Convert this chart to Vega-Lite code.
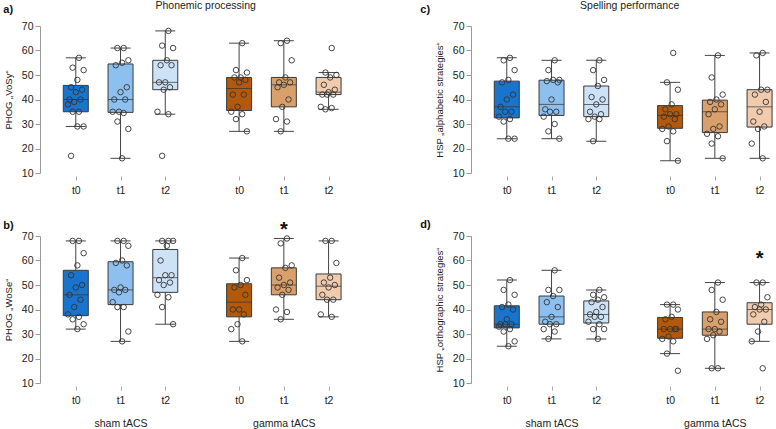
{
  "$schema": "https://vega.github.io/schema/vega-lite/v6.json",
  "padding": {"left": 3, "top": 0, "right": 0, "bottom": 0},
  "background": "white",
  "datasets": {
    "obs": [
      {"p": "a", "g": "sham", "t": "t0", "v": [57, 53, 52, 48, 45, 44, 43, 40, 40, 39, 38, 35, 35, 29, 29, 17]},
      {"p": "a", "g": "sham", "t": "t1", "v": [61, 61, 56, 55, 54, 45, 43, 40, 40, 35, 35, 34.5, 31, 28, 16]},
      {"p": "a", "g": "sham", "t": "t2", "v": [68, 62, 61, 56, 54, 54, 47, 47, 45, 44, 35, 34, 17]},
      {"p": "a", "g": "gamma", "t": "t0", "v": [63, 52, 51, 49, 49, 48, 47, 42, 42, 37, 35, 34, 32, 27]},
      {"p": "a", "g": "gamma", "t": "t1", "v": [64, 63, 56, 49, 47, 47, 46, 45, 40, 37, 32, 31, 27]},
      {"p": "a", "g": "gamma", "t": "t2", "v": [61, 51, 50, 49, 46, 44, 43, 42, 42, 42, 37, 36.5, 36]},
      {"p": "b", "g": "sham", "t": "t0", "v": [68, 68, 63, 58, 54, 50, 49, 46, 44, 41, 38, 37, 36, 34, 32]},
      {"p": "b", "g": "sham", "t": "t1", "v": [68, 68, 66, 60, 59, 58, 49, 48, 48, 47, 43, 41, 41, 31, 27]},
      {"p": "b", "g": "sham", "t": "t2", "v": [68, 68, 68, 66, 60, 54, 54, 52, 51, 50, 46, 45, 41, 34]},
      {"p": "b", "g": "gamma", "t": "t0", "v": [61, 56, 52, 50, 49, 46, 40, 40, 38, 34, 32, 27]},
      {"p": "b", "g": "gamma", "t": "t1", "v": [69, 67, 58, 57, 53, 51, 50, 49, 48, 46, 40, 39, 36]},
      {"p": "b", "g": "gamma", "t": "t2", "v": [68, 68, 59, 53, 51, 50, 49, 46, 44, 44, 38, 37]},
      {"p": "c", "g": "sham", "t": "t0", "v": [57, 56, 52, 48, 47, 42, 40, 37, 35, 35, 33, 32, 31, 24, 24]},
      {"p": "c", "g": "sham", "t": "t1", "v": [56, 52, 48, 48, 47.5, 47, 40, 36, 35, 35, 33, 30, 27, 24]},
      {"p": "c", "g": "sham", "t": "t2", "v": [56, 52, 48, 45.5, 41, 40, 38, 35, 34, 33, 32, 32, 23]},
      {"p": "c", "g": "gamma", "t": "t0", "v": [59, 47, 44, 38, 36, 34, 34, 33, 32, 29, 28, 27, 23, 15]},
      {"p": "c", "g": "gamma", "t": "t1", "v": [58, 49, 42, 40, 39, 38, 36, 34, 29, 28, 26, 25, 22, 16]},
      {"p": "c", "g": "gamma", "t": "t2", "v": [59, 58, 44, 44, 42, 39, 35, 31, 29, 28, 22, 16]},
      {"p": "d", "g": "sham", "t": "t0", "v": [52, 48, 46, 42, 41, 40, 36, 34, 34, 34, 33, 32, 31, 27, 25]},
      {"p": "d", "g": "sham", "t": "t1", "v": [56, 48, 48, 45.5, 43, 41, 37, 35, 34, 34, 32, 31, 28]},
      {"p": "d", "g": "sham", "t": "t2", "v": [48, 46, 45, 44, 43, 41, 39, 38, 37, 37, 35, 34, 32, 32, 28]},
      {"p": "d", "g": "gamma", "t": "t0", "v": [42, 42, 40, 37, 36, 32, 32, 32, 32, 29, 28, 27, 22, 15]},
      {"p": "d", "g": "gamma", "t": "t1", "v": [51, 48, 44, 39, 36, 35, 32, 32, 31, 29.5, 28, 16, 16]},
      {"p": "d", "g": "gamma", "t": "t2", "v": [51, 51, 45, 42, 41, 40, 40, 38, 35, 31, 27, 16]}
    ],
    "stars": [
      {"p": "b", "g": "gamma", "t": "t1", "v": 75},
      {"p": "d", "g": "gamma", "t": "t2", "v": 63}
    ]
  },
  "spacing": 78,
  "hconcat": [
    {
      "title": {"text": "Phonemic processing", "anchor": "middle", "frame": "bounds", "fontSize": 10.5, "fontWeight": "normal", "color": "#222", "offset": -7, "dx": 33},
      "spacing": 23,
      "vconcat": [
        {
          "width": 302, "height": 147,
          "title": {"text": "a)", "anchor": "start", "frame": "bounds", "fontSize": 11, "fontWeight": "bold", "color": "#111", "offset": 6},
          "data": {"name": "obs"},
          "transform": [
            {"filter": "datum.p == 'a'"},
            {"flatten": ["v"]},
            {"calculate": "(datum.g == 'gamma' ? 4.65 : 1) + (datum.t == 't0' ? 0 : datum.t == 't1' ? 1 : 2)", "as": "x"},
            {"calculate": "datum.g + ' ' + datum.t", "as": "grp"}
          ],
          "layer": [
            {
              "mark": {"type": "boxplot", "orient": "vertical", "extent": 1.5, "outliers": false, "size": 25,
                "box": {"stroke": "#3a3a3a", "strokeWidth": 1, "opacity": 1},
                "median": {"color": "#333", "strokeWidth": 2},
                "rule": {"color": "#444", "strokeWidth": 1},
                "ticks": {"color": "#444", "size": 20}},
              "encoding": {
                "x": {"field": "x", "type": "quantitative", "scale": {"domain": [0.2, 6.95], "nice": false, "zero": false, "padding": 0},
                  "axis": {"values": [1, 2, 3, 4.65, 5.65, 6.65], "domain": false, "grid": false, "title": null, "tickColor": "#aaa", "tickSize": 4, "offset": 3, "labelPadding": 5, "labelFontSize": 10.5, "labelColor": "#222", "labelOverlap": false, "labelBound": false, "labelFlush": false,
                    "labelExpr": "datum.value < 4 ? 't' + (datum.value - 1) : 't' + round(datum.value - 4.65)"}},
                "y": {"field": "v", "type": "quantitative", "scale": {"domain": [10, 70], "nice": false, "zero": false},
                  "axis": {"values": [10, 20, 30, 40, 50, 60, 70], "grid": false, "labelOverlap": false, "domainColor": "#999", "tickColor": "#999", "tickSize": 5, "labelFontSize": 10.5, "labelColor": "#222", "labelPadding": 2, "title": "PHOG „VoSy“", "titleFontSize": 9.5, "titleFontWeight": "normal", "titleColor": "#222", "titlePadding": 8}},
                "color": {"field": "grp", "type": "nominal", "legend": null,
                  "scale": {"domain": ["sham t0", "sham t1", "sham t2", "gamma t0", "gamma t1", "gamma t2"], "range": ["#1874cd", "#8dc0ee", "#cde2f6", "#b3590b", "#d9a06b", "#f0cbae"]}}
              }
            },
            {
              "transform": [
                {"window": [{"op": "row_number", "as": "rn"}], "groupby": ["grp"]},
                {"calculate": "datum.x + ((datum.rn * 7) % 11 - 5) * 0.035", "as": "jx"}
              ],
              "mark": {"type": "point", "filled": false, "stroke": "#333", "strokeWidth": 0.9, "size": 30, "opacity": 1},
              "encoding": {
                "x": {"field": "jx", "type": "quantitative", "scale": {"domain": [0.2, 6.95], "nice": false, "zero": false, "padding": 0}},
                "y": {"field": "v", "type": "quantitative"}
              }
            }
          ]
        },
        {
          "width": 302, "height": 147,
          "title": {"text": "b)", "anchor": "start", "frame": "bounds", "fontSize": 11, "fontWeight": "bold", "color": "#111", "offset": -11},
          "data": {"name": "obs"},
          "transform": [
            {"filter": "datum.p == 'b'"},
            {"flatten": ["v"]},
            {"calculate": "(datum.g == 'gamma' ? 4.65 : 1) + (datum.t == 't0' ? 0 : datum.t == 't1' ? 1 : 2)", "as": "x"},
            {"calculate": "datum.g + ' ' + datum.t", "as": "grp"}
          ],
          "layer": [
            {
              "mark": {"type": "boxplot", "orient": "vertical", "extent": 1.5, "outliers": false, "size": 25,
                "box": {"stroke": "#3a3a3a", "strokeWidth": 1, "opacity": 1},
                "median": {"color": "#333", "strokeWidth": 2},
                "rule": {"color": "#444", "strokeWidth": 1},
                "ticks": {"color": "#444", "size": 20}},
              "encoding": {
                "x": {"field": "x", "type": "quantitative", "scale": {"domain": [0.2, 6.95], "nice": false, "zero": false, "padding": 0},
                  "axis": {"values": [1, 2, 3, 4.65, 5.65, 6.65], "domain": false, "grid": false, "title": null, "tickColor": "#aaa", "tickSize": 4, "offset": 3, "labelPadding": 5, "labelFontSize": 10.5, "labelColor": "#222", "labelOverlap": false, "labelBound": false, "labelFlush": false, "labelLineHeight": 23,
                    "labelExpr": "datum.value == 2 ? ['t1', 'sham tACS'] : abs(datum.value - 5.65) < 0.01 ? ['t1', 'gamma tACS'] : datum.value < 4 ? 't' + (datum.value - 1) : 't' + round(datum.value - 4.65)"}},
                "y": {"field": "v", "type": "quantitative", "scale": {"domain": [10, 70], "nice": false, "zero": false},
                  "axis": {"values": [10, 20, 30, 40, 50, 60, 70], "grid": false, "labelOverlap": false, "domainColor": "#999", "tickColor": "#999", "tickSize": 5, "labelFontSize": 10.5, "labelColor": "#222", "labelPadding": 2, "title": "PHOG „WoSe“", "titleFontSize": 9.5, "titleFontWeight": "normal", "titleColor": "#222", "titlePadding": 8}},
                "color": {"field": "grp", "type": "nominal", "legend": null,
                  "scale": {"domain": ["sham t0", "sham t1", "sham t2", "gamma t0", "gamma t1", "gamma t2"], "range": ["#1874cd", "#8dc0ee", "#cde2f6", "#b3590b", "#d9a06b", "#f0cbae"]}}
              }
            },
            {
              "transform": [
                {"window": [{"op": "row_number", "as": "rn"}], "groupby": ["grp"]},
                {"calculate": "datum.x + ((datum.rn * 7) % 11 - 5) * 0.035", "as": "jx"}
              ],
              "mark": {"type": "point", "filled": false, "stroke": "#333", "strokeWidth": 0.9, "size": 30, "opacity": 1},
              "encoding": {
                "x": {"field": "jx", "type": "quantitative", "scale": {"domain": [0.2, 6.95], "nice": false, "zero": false, "padding": 0}},
                "y": {"field": "v", "type": "quantitative"}
              }
            },
            {
              "data": {"name": "stars"},
              "transform": [
                {"filter": "datum.p == 'b'"},
                {"calculate": "(datum.g == 'gamma' ? 4.65 : 1) + (datum.t == 't0' ? 0 : datum.t == 't1' ? 1 : 2)", "as": "x"}
              ],
              "mark": {"type": "text", "text": "*", "fontSize": 20, "fontWeight": "bold", "color": "#111", "baseline": "middle", "dy": 6},
              "encoding": {
                "x": {"field": "x", "type": "quantitative"},
                "y": {"field": "v", "type": "quantitative"}
              }
            }
          ]
        }
      ]
    },
    {
      "title": {"text": "Spelling performance", "anchor": "middle", "frame": "bounds", "fontSize": 10.5, "fontWeight": "normal", "color": "#222", "offset": -7, "dx": 33},
      "spacing": 23,
      "vconcat": [
        {
          "width": 302, "height": 147,
          "title": {"text": "c)", "anchor": "start", "frame": "bounds", "fontSize": 11, "fontWeight": "bold", "color": "#111", "offset": 6, "dx": -14},
          "data": {"name": "obs"},
          "transform": [
            {"filter": "datum.p == 'c'"},
            {"flatten": ["v"]},
            {"calculate": "(datum.g == 'gamma' ? 4.65 : 1) + (datum.t == 't0' ? 0 : datum.t == 't1' ? 1 : 2)", "as": "x"},
            {"calculate": "datum.g + ' ' + datum.t", "as": "grp"}
          ],
          "layer": [
            {
              "mark": {"type": "boxplot", "orient": "vertical", "extent": 1.5, "outliers": false, "size": 25,
                "box": {"stroke": "#3a3a3a", "strokeWidth": 1, "opacity": 1},
                "median": {"color": "#333", "strokeWidth": 2},
                "rule": {"color": "#444", "strokeWidth": 1},
                "ticks": {"color": "#444", "size": 20}},
              "encoding": {
                "x": {"field": "x", "type": "quantitative", "scale": {"domain": [0.2, 6.95], "nice": false, "zero": false, "padding": 0},
                  "axis": {"values": [1, 2, 3, 4.65, 5.65, 6.65], "domain": false, "grid": false, "title": null, "tickColor": "#aaa", "tickSize": 4, "offset": 3, "labelPadding": 5, "labelFontSize": 10.5, "labelColor": "#222", "labelOverlap": false, "labelBound": false, "labelFlush": false,
                    "labelExpr": "datum.value < 4 ? 't' + (datum.value - 1) : 't' + round(datum.value - 4.65)"}},
                "y": {"field": "v", "type": "quantitative", "scale": {"domain": [10, 70], "nice": false, "zero": false},
                  "axis": {"values": [10, 20, 30, 40, 50, 60, 70], "grid": false, "labelOverlap": false, "domainColor": "#999", "tickColor": "#999", "tickSize": 5, "labelFontSize": 10.5, "labelColor": "#222", "labelPadding": 2, "title": "HSP „alphabetic strategies“", "titleFontSize": 9.5, "titleFontWeight": "normal", "titleColor": "#222", "titlePadding": 8}},
                "color": {"field": "grp", "type": "nominal", "legend": null,
                  "scale": {"domain": ["sham t0", "sham t1", "sham t2", "gamma t0", "gamma t1", "gamma t2"], "range": ["#1874cd", "#8dc0ee", "#cde2f6", "#b3590b", "#d9a06b", "#f0cbae"]}}
              }
            },
            {
              "transform": [
                {"window": [{"op": "row_number", "as": "rn"}], "groupby": ["grp"]},
                {"calculate": "datum.x + ((datum.rn * 7) % 11 - 5) * 0.035", "as": "jx"}
              ],
              "mark": {"type": "point", "filled": false, "stroke": "#333", "strokeWidth": 0.9, "size": 30, "opacity": 1},
              "encoding": {
                "x": {"field": "jx", "type": "quantitative", "scale": {"domain": [0.2, 6.95], "nice": false, "zero": false, "padding": 0}},
                "y": {"field": "v", "type": "quantitative"}
              }
            }
          ]
        },
        {
          "width": 302, "height": 147,
          "title": {"text": "d)", "anchor": "start", "frame": "bounds", "fontSize": 11, "fontWeight": "bold", "color": "#111", "offset": 1, "dx": -14},
          "data": {"name": "obs"},
          "transform": [
            {"filter": "datum.p == 'd'"},
            {"flatten": ["v"]},
            {"calculate": "(datum.g == 'gamma' ? 4.65 : 1) + (datum.t == 't0' ? 0 : datum.t == 't1' ? 1 : 2)", "as": "x"},
            {"calculate": "datum.g + ' ' + datum.t", "as": "grp"}
          ],
          "layer": [
            {
              "mark": {"type": "boxplot", "orient": "vertical", "extent": 1.5, "outliers": false, "size": 25,
                "box": {"stroke": "#3a3a3a", "strokeWidth": 1, "opacity": 1},
                "median": {"color": "#333", "strokeWidth": 2},
                "rule": {"color": "#444", "strokeWidth": 1},
                "ticks": {"color": "#444", "size": 20}},
              "encoding": {
                "x": {"field": "x", "type": "quantitative", "scale": {"domain": [0.2, 6.95], "nice": false, "zero": false, "padding": 0},
                  "axis": {"values": [1, 2, 3, 4.65, 5.65, 6.65], "domain": false, "grid": false, "title": null, "tickColor": "#aaa", "tickSize": 4, "offset": 3, "labelPadding": 5, "labelFontSize": 10.5, "labelColor": "#222", "labelOverlap": false, "labelBound": false, "labelFlush": false, "labelLineHeight": 23,
                    "labelExpr": "datum.value == 2 ? ['t1', 'sham tACS'] : abs(datum.value - 5.65) < 0.01 ? ['t1', 'gamma tACS'] : datum.value < 4 ? 't' + (datum.value - 1) : 't' + round(datum.value - 4.65)"}},
                "y": {"field": "v", "type": "quantitative", "scale": {"domain": [10, 70], "nice": false, "zero": false},
                  "axis": {"values": [10, 20, 30, 40, 50, 60, 70], "grid": false, "labelOverlap": false, "domainColor": "#999", "tickColor": "#999", "tickSize": 5, "labelFontSize": 10.5, "labelColor": "#222", "labelPadding": 2, "title": "HSP „orthographic strategies“", "titleFontSize": 9.5, "titleFontWeight": "normal", "titleColor": "#222", "titlePadding": 8}},
                "color": {"field": "grp", "type": "nominal", "legend": null,
                  "scale": {"domain": ["sham t0", "sham t1", "sham t2", "gamma t0", "gamma t1", "gamma t2"], "range": ["#1874cd", "#8dc0ee", "#cde2f6", "#b3590b", "#d9a06b", "#f0cbae"]}}
              }
            },
            {
              "transform": [
                {"window": [{"op": "row_number", "as": "rn"}], "groupby": ["grp"]},
                {"calculate": "datum.x + ((datum.rn * 7) % 11 - 5) * 0.035", "as": "jx"}
              ],
              "mark": {"type": "point", "filled": false, "stroke": "#333", "strokeWidth": 0.9, "size": 30, "opacity": 1},
              "encoding": {
                "x": {"field": "jx", "type": "quantitative", "scale": {"domain": [0.2, 6.95], "nice": false, "zero": false, "padding": 0}},
                "y": {"field": "v", "type": "quantitative"}
              }
            },
            {
              "data": {"name": "stars"},
              "transform": [
                {"filter": "datum.p == 'd'"},
                {"calculate": "(datum.g == 'gamma' ? 4.65 : 1) + (datum.t == 't0' ? 0 : datum.t == 't1' ? 1 : 2)", "as": "x"}
              ],
              "mark": {"type": "text", "text": "*", "fontSize": 20, "fontWeight": "bold", "color": "#111", "baseline": "middle", "dy": 6},
              "encoding": {
                "x": {"field": "x", "type": "quantitative"},
                "y": {"field": "v", "type": "quantitative"}
              }
            }
          ]
        }
      ]
    }
  ],
  "config": {
    "view": {"stroke": null},
    "font": "Liberation Sans",
    "axis": {"labelOverlap": false},
    "axisY": {"labelOverlap": false, "tickCount": 7}
  }
}
